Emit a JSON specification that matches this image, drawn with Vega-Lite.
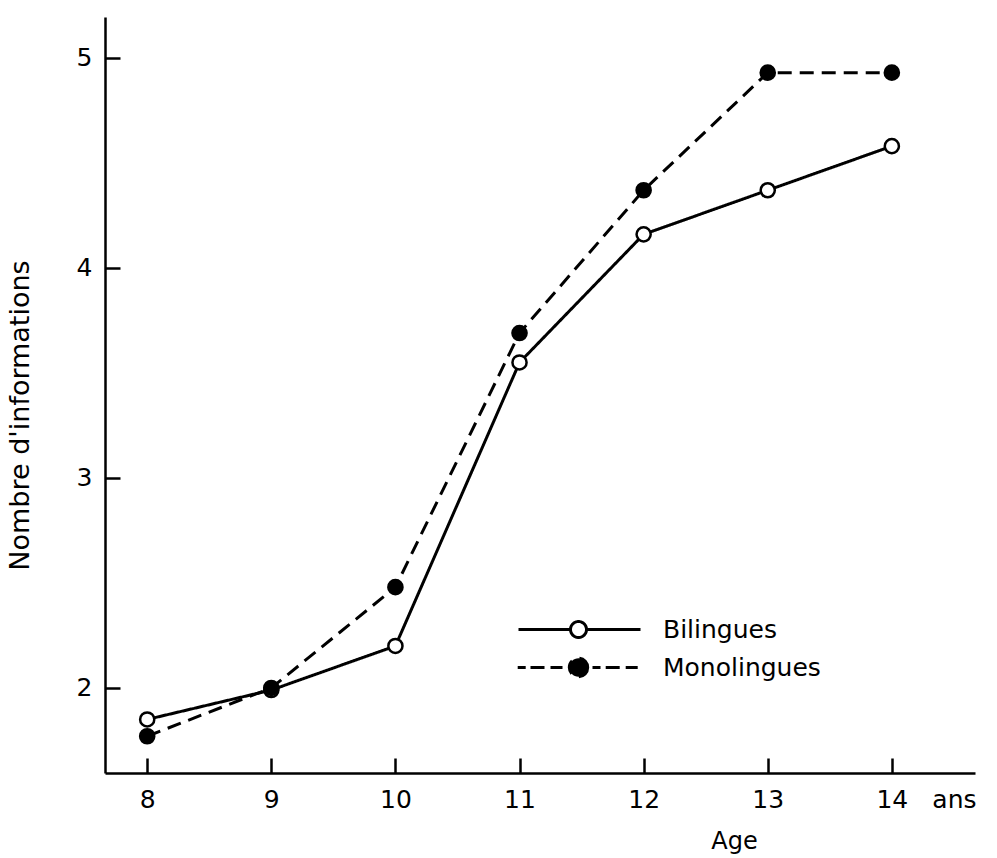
{
  "$schema": "https://vega.github.io/schema/vega-lite/v6.json",
  "autosize": "none",
  "width": 870,
  "height": 756,
  "padding": {"left": 105, "top": 17, "right": 22, "bottom": 85},
  "background": "white",
  "config": {
    "view": {"stroke": null},
    "font": "DejaVu Sans"
  },
  "data": {
    "values": [
      {"age": 8, "nombre": 1.85, "groupe": "Bilingues"},
      {"age": 9, "nombre": 1.99, "groupe": "Bilingues"},
      {"age": 10, "nombre": 2.2, "groupe": "Bilingues"},
      {"age": 11, "nombre": 3.55, "groupe": "Bilingues"},
      {"age": 12, "nombre": 4.16, "groupe": "Bilingues"},
      {"age": 13, "nombre": 4.37, "groupe": "Bilingues"},
      {"age": 14, "nombre": 4.58, "groupe": "Bilingues"},
      {"age": 8, "nombre": 1.77, "groupe": "Monolingues"},
      {"age": 9, "nombre": 2.0, "groupe": "Monolingues"},
      {"age": 10, "nombre": 2.48, "groupe": "Monolingues"},
      {"age": 11, "nombre": 3.69, "groupe": "Monolingues"},
      {"age": 12, "nombre": 4.37, "groupe": "Monolingues"},
      {"age": 13, "nombre": 4.93, "groupe": "Monolingues"},
      {"age": 14, "nombre": 4.93, "groupe": "Monolingues"}
    ]
  },
  "encoding": {
    "x": {
      "field": "age",
      "type": "quantitative",
      "scale": {"domain": [7.66, 14.67], "nice": false, "zero": false},
      "axis": {
        "values": [8, 9, 10, 11, 12, 13, 14, 14.5],
        "labelExpr": "datum.value == 14.5 ? 'ans' : datum.label",
        "grid": false,
        "domainColor": "black",
        "domainWidth": 2.5,
        "tickColor": {"condition": {"test": "datum.value == 14.5", "value": "transparent"}, "value": "black"},
        "tickSize": -15,
        "tickWidth": 2.5,
        "labelPadding": 29,
        "labelFontSize": 25,
        "labelColor": "black",
        "labelFlush": false,
        "labelBound": false,
        "title": "Age",
        "titleFontSize": 24,
        "titleFontWeight": "normal",
        "titleColor": "black",
        "titleX": 629,
        "titleY": 75,
        "titleAlign": "center",
        "titleBaseline": "alphabetic"
      }
    },
    "y": {
      "field": "nombre",
      "type": "quantitative",
      "scale": {"domain": [1.595, 5.195], "nice": false, "zero": false},
      "axis": {
        "values": [2, 3, 4, 5],
        "grid": false,
        "domainColor": "black",
        "domainWidth": 2.5,
        "tickColor": "black",
        "tickSize": -15,
        "tickWidth": 2.5,
        "labelPadding": 28,
        "labelFontSize": 25,
        "labelColor": "black",
        "labelFlush": false,
        "title": "Nombre d'informations",
        "titleFontSize": 27,
        "titleFontWeight": "normal",
        "titleColor": "black",
        "titleX": -85,
        "titleY": 398,
        "titleAngle": -90,
        "titleAlign": "center",
        "titleBaseline": "middle"
      }
    }
  },
  "layer": [
    {
      "mark": {"type": "line", "color": "black", "strokeWidth": 3},
      "encoding": {
        "detail": {"field": "groupe"},
        "strokeDash": {
          "field": "groupe",
          "type": "nominal",
          "scale": {"domain": ["Bilingues", "Monolingues"], "range": [[1, 0], [14, 8]]},
          "legend": {
            "title": null,
            "orient": "none",
            "legendX": 409,
            "legendY": 600,
            "symbolSize": 256,
            "symbolStrokeWidth": 3,
            "symbolStrokeColor": "black",
            "symbolOpacity": 1,
            "labelFontSize": 25,
            "labelColor": "black",
            "labelOffset": 124,
            "rowPadding": 8,
            "labelLimit": 300,
            "encode": {
              "symbols": {
                "update": {
                  "shape": {"signal": "datum.value === 'Bilingues' ? 'M-1,0H5.5M7.5,0H14.25M7.5,0A1,1 0 1,1 5.5,0A1,1 0 1,1 7.5,0Z' : 'M-1.1,0H-0.1M0.5,0H2.4M3,0H4.5M8.25,0H9.25M9.9,0H11.75M12.4,0H13.9M7.65,0A1.15,1.15 0 1,1 5.35,0A1.15,1.15 0 1,1 7.65,0Z'"},
                  "fill": {"signal": "datum.value === 'Bilingues' ? 'white' : 'black'"},
                  "stroke": {"value": "black"},
                  "strokeDash": {"value": [1, 0]},
                  "strokeWidth": {"value": 3},
                  "opacity": {"value": 1}
                }
              }
            }
          }
        }
      }
    },
    {
      "mark": {"type": "point", "shape": "circle", "size": 200, "stroke": "black", "strokeWidth": 2.5, "opacity": 1},
      "encoding": {
        "fill": {
          "field": "groupe",
          "type": "nominal",
          "scale": {"domain": ["Bilingues", "Monolingues"], "range": ["white", "black"]},
          "legend": null
        }
      }
    }
  ]
}
